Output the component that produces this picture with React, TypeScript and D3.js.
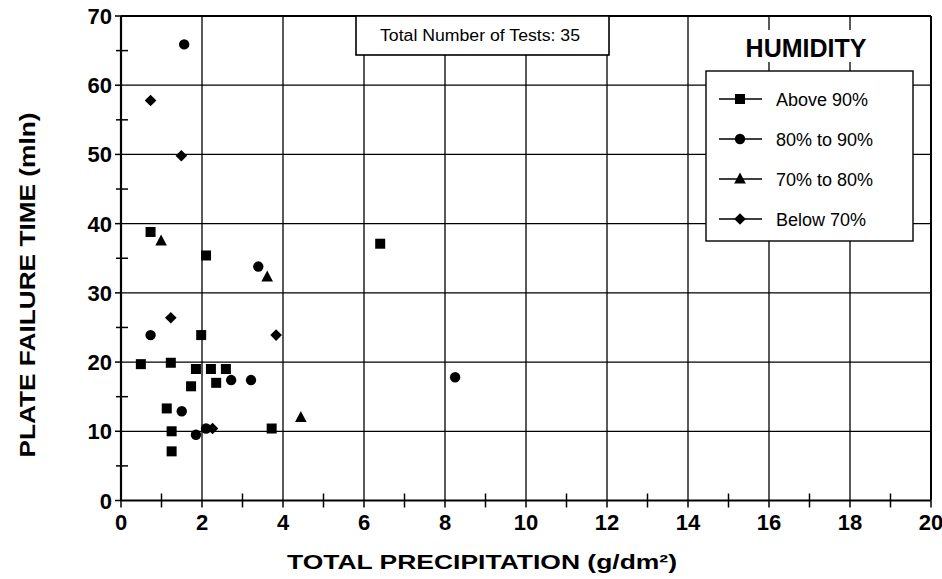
import React from "react";
import * as d3 from "d3";

const W = 942;
const H = 579;

const xTicksMajor = [0, 2, 4, 6, 8, 10, 12, 14, 16, 18, 20];
const yTicksMajor = [0, 10, 20, 30, 40, 50, 60, 70];

const above90: [number, number][] = [
  [0.73, 38.8], [2.1, 35.4], [6.4, 37.1], [1.98, 23.9], [0.49, 19.7],
  [1.23, 19.9], [1.85, 19.0], [2.22, 19.0], [2.59, 19.0], [1.73, 16.5],
  [2.35, 17.0], [1.13, 13.3], [1.25, 10.0], [3.72, 10.4], [1.25, 7.1],
];
const from80to90: [number, number][] = [
  [1.56, 65.9], [3.39, 33.8], [0.73, 23.9], [2.72, 17.4], [3.21, 17.4],
  [1.5, 12.9], [1.85, 9.5], [2.1, 10.4], [8.25, 17.8],
];
const from70to80: [number, number][] = [
  [0.99, 37.5], [3.61, 32.3], [4.44, 12.0],
];
const below70: [number, number][] = [
  [0.73, 57.8], [1.49, 49.8], [1.23, 26.4], [3.83, 23.9], [2.26, 10.4],
];

const legendLabels = ["Above 90%", "80% to 90%", "70% to 80%", "Below 70%"];
const totalTests = 35;

const FONT = "'Liberation Sans', Arial, Helvetica, sans-serif";

const margin = { left: 121, right: W - 931, top: 16, bottom: H - 500.5 };

type Shape = "square" | "circle" | "triangle" | "diamond";

function Marker({ shape, x, y }: { shape: Shape; x: number; y: number }) {
  if (shape === "square") return <rect x={x - 5} y={y - 5} width={10} height={10} fill="#000" />;
  if (shape === "circle") return <circle cx={x} cy={y} r={5.2} fill="#000" />;
  if (shape === "triangle")
    return <path d={`M${x},${y - 6.5} L${x + 5.8},${y + 4.5} L${x - 5.8},${y + 4.5} Z`} fill="#000" />;
  return <path d={`M${x},${y - 5.8} L${x + 5.8},${y} L${x},${y + 5.8} L${x - 5.8},${y} Z`} fill="#000" />;
}

export default function App() {
  const x = d3.scaleLinear().domain([0, 20]).range([margin.left, W - margin.right]);
  const y = d3.scaleLinear().domain([0, 70]).range([H - margin.bottom, margin.top]);
  const x0 = x(0), x1 = x(20), y0 = y(0), y1 = y(70);

  const xMinor = d3.range(1, 20, 2);
  const yMinor = d3.range(5, 70, 10);

  const series: { data: [number, number][]; shape: Shape }[] = [
    { data: above90, shape: "square" },
    { data: from80to90, shape: "circle" },
    { data: from70to80, shape: "triangle" },
    { data: below70, shape: "diamond" },
  ];
  const shapes: Shape[] = ["square", "circle", "triangle", "diamond"];

  const legend = { x: 706, y: 71, w: 207, h: 170 };

  return (
    <svg width={W} height={H} style={{ position: "absolute", left: 0, top: 0, background: "#fff" }}
      fontFamily={FONT}>
      <rect width={W} height={H} fill="#fff" />
      {/* grid */}
      {xTicksMajor.filter((t) => t > 0 && t < 20).map((t) => (
        <line key={"gx" + t} x1={x(t)} x2={x(t)} y1={y0} y2={y1} stroke="#000" strokeWidth={1.3} />
      ))}
      {yTicksMajor.filter((t) => t > 0 && t < 70).map((t) => (
        <line key={"gy" + t} x1={x0} x2={x1} y1={y(t)} y2={y(t)} stroke="#000" strokeWidth={1.3} />
      ))}
      {/* frame */}
      <line x1={x0} x2={x1} y1={y1} y2={y1} stroke="#000" strokeWidth={2} />
      <line x1={x1} x2={x1} y1={y1} y2={y0} stroke="#000" strokeWidth={2} />
      <line x1={x0} x2={x1} y1={y0} y2={y0} stroke="#000" strokeWidth={2.2} />
      <line x1={x0} x2={x0} y1={y1} y2={y0} stroke="#000" strokeWidth={2.2} />
      {/* x ticks */}
      {xTicksMajor.map((t) => (
        <line key={"xt" + t} x1={x(t)} x2={x(t)} y1={y0} y2={y0 + 7} stroke="#000" strokeWidth={1.5} />
      ))}
      {xMinor.map((t) => (
        <line key={"xm" + t} x1={x(t)} x2={x(t)} y1={y0 - 7} y2={y0 + 7} stroke="#000" strokeWidth={1.5} />
      ))}
      {xTicksMajor.map((t) => (
        <text key={"xl" + t} x={x(t)} y={y0 + 29} textAnchor="middle" fontSize={22} fontWeight="bold">
          {t}
        </text>
      ))}
      {/* y ticks */}
      {yTicksMajor.map((t) => (
        <line key={"yt" + t} x1={x0 - 6} x2={x0} y1={y(t)} y2={y(t)} stroke="#000" strokeWidth={1.5} />
      ))}
      {yMinor.map((t) => (
        <line key={"ym" + t} x1={x0 - 5} x2={x0 + 7} y1={y(t)} y2={y(t)} stroke="#000" strokeWidth={1.5} />
      ))}
      {yTicksMajor.map((t) => (
        <text key={"yl" + t} x={x0 - 9} y={y(t) + 8} textAnchor="end" fontSize={22} fontWeight="bold">
          {t}
        </text>
      ))}
      {/* axis titles */}
      <text x={287} y={569} fontSize={21} fontWeight="bold" textLength={390}
        lengthAdjust="spacingAndGlyphs">
        TOTAL PRECIPITATION (g/dm²)
      </text>
      <text transform={`translate(35, 285) rotate(-90)`} textAnchor="middle" fontSize={22}
        fontWeight="bold" textLength={345} lengthAdjust="spacingAndGlyphs">
        PLATE FAILURE TIME (mln)
      </text>
      {/* data */}
      {series.map((s, i) =>
        s.data.map((d, j) => <Marker key={i + "-" + j} shape={s.shape} x={x(d[0])} y={y(d[1])} />)
      )}
      {/* total tests box */}
      <rect x={356} y={y1} width={253} height={39} fill="#fff" stroke="#000" strokeWidth={1.6} />
      <text x={380} y={41} fontSize={16} textLength={200} lengthAdjust="spacingAndGlyphs">
        Total Number of Tests: {totalTests}
      </text>
      {/* legend title */}
      <rect x={740} y={30} width={132} height={32} fill="#fff" />
      <text x={806} y={57} textAnchor="middle" fontSize={25} fontWeight="bold">
        HUMIDITY
      </text>
      {/* legend */}
      <rect x={legend.x} y={legend.y} width={legend.w} height={legend.h} fill="#fff" stroke="#000"
        strokeWidth={1.4} />
      {legendLabels.map((lab, i) => {
        const ly = 99 + i * 40;
        return (
          <g key={lab}>
            <line x1={719} x2={762} y1={ly} y2={ly} stroke="#000" strokeWidth={1.4} />
            <Marker shape={shapes[i]} x={740} y={ly} />
            <text x={776} y={ly + 7} fontSize={18}>
              {lab}
            </text>
          </g>
        );
      })}
    </svg>
  );
}
